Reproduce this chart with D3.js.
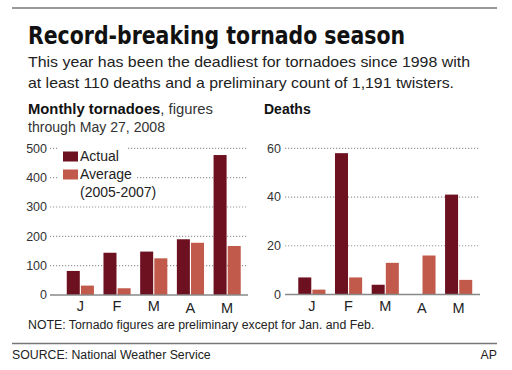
<!DOCTYPE html>
<html><head><meta charset="utf-8">
<script src="https://cdn.jsdelivr.net/npm/d3@7"></script>
<style>
body{margin:0;background:#fff;}
svg{display:block;font-family:"Liberation Sans",Arial,Helvetica,sans-serif;}
</style></head>
<body><svg id="c" width="512" height="370"></svg>
<script>
const months = ["J","F","M","A","M"];
const seriesNames = ["Actual","Average"];
const tornadoActual = [82,144,148,190,477];
const tornadoAverage = [32,23,125,178,167];
const deathsActual = [7,58,4,0,41];
const deathsAverage = [2,7,13,16,6];
const tornadoTicks = [0,100,200,300,400,500];
const deathTicks = [0,20,40,60];
const colors = {Actual:"#6d1020", Average:"#c25a4b"};

const svg = d3.select("#c");

// rules
svg.append("line").attr("x1",12).attr("x2",497).attr("y1",8).attr("y2",8).attr("stroke","#777").attr("stroke-width",1.5);
svg.append("line").attr("x1",12).attr("x2",497).attr("y1",343.5).attr("y2",343.5).attr("stroke","#777").attr("stroke-width",1.5);

// title
svg.append("text").attr("x",28).attr("y",43.5)
  .attr("font-family","'Liberation Sans Narrow','DejaVu Sans Condensed',Arial,sans-serif")
  .attr("font-weight","bold").attr("font-size",25).attr("fill","#111")
  .attr("textLength",377).attr("lengthAdjust","spacingAndGlyphs")
  .text("Record-breaking tornado season");
svg.append("text").attr("x",28).attr("y",67).attr("font-size",14.5).attr("fill","#222")
  .attr("textLength",442).attr("lengthAdjust","spacingAndGlyphs")
  .text("This year has been the deadliest for tornadoes since 1998 with");
svg.append("text").attr("x",28).attr("y",88).attr("font-size",14.5).attr("fill","#222")
  .attr("textLength",426).attr("lengthAdjust","spacingAndGlyphs")
  .text("at least 110 deaths and a preliminary count of 1,191 twisters.");

const sub = svg.append("text").attr("x",28).attr("y",114).attr("font-size",14).attr("fill","#111")
  .attr("textLength",185).attr("lengthAdjust","spacingAndGlyphs");
sub.append("tspan").attr("font-weight","bold").text("Monthly tornadoes");
sub.append("tspan").attr("fill","#333").text(", figures");
svg.append("text").attr("x",28).attr("y",132).attr("font-size",14).attr("fill","#333")
  .attr("textLength",137).attr("lengthAdjust","spacingAndGlyphs").text("through May 27, 2008");
svg.append("text").attr("x",264).attr("y",114).attr("font-size",14).attr("font-weight","bold").attr("fill","#111").text("Deaths");

function panel(opts){
  const {x0r, xr, yr, domainMax, ticks, actual, average, labelX} = opts;
  const y = d3.scaleLinear().domain([0,domainMax]).range(yr);
  const x0 = d3.scaleBand().domain(d3.range(months.length)).range(x0r).paddingInner(0.26).paddingOuter(0.13);
  const x1 = d3.scaleBand().domain(seriesNames).range([0,x0.bandwidth()]).paddingInner(0.08);
  const g = svg.append("g");
  g.selectAll(".grid").data(ticks.filter(t=>t>0)).join("line")
    .attr("x1",xr[0]).attr("x2",xr[1]).attr("y1",d=>y(d)).attr("y2",d=>y(d))
    .attr("stroke","#999").attr("stroke-width",1.2).attr("stroke-dasharray","1.2,1.8");
  g.selectAll(".tl").data(ticks).join("text")
    .attr("x",labelX).attr("y",d=>y(d)).attr("dy","0.35em").attr("text-anchor","end")
    .attr("font-size",12.5).attr("fill","#333").text(d=>d);
  return {g,x0,x1,y, data: months.map((m,i)=>({i, Actual:actual[i], Average:average[i]}))};
}
function drawBars(p, xr){
  const {g,x0,x1,y,data} = p;
  const grp = g.selectAll(".grp").data(data).join("g").attr("transform",d=>`translate(${x0(d.i)},0)`);
  grp.selectAll("rect").data(d=>seriesNames.map(s=>({s,v:d[s]}))).join("rect")
    .attr("x",d=>x1(d.s)).attr("width",x1.bandwidth())
    .attr("y",d=>y(d.v)).attr("height",d=>y(0)-y(d.v))
    .attr("fill",d=>colors[d.s]);
  g.append("line").attr("x1",xr[0]).attr("x2",xr[1]).attr("y1",y(0)).attr("y2",y(0))
    .attr("stroke","#888").attr("stroke-width",1.5);
  g.selectAll(".ml").data(data).join("text")
    .attr("x",d=>x0(d.i)+x0.bandwidth()/2).attr("y",d=>d.i>=3?313:310.5)
    .attr("text-anchor","middle").attr("font-size",14.5).attr("fill","#222")
    .text(d=>months[d.i]);
}

const left = panel({x0r:[62,245.5], xr:[50,248], yr:[295,148.3], domainMax:500, ticks:tornadoTicks, actual:tornadoActual, average:tornadoAverage, labelX:47});
const lg = svg.append("g");
lg.append("rect").attr("x",58).attr("y",145).attr("width",70).attr("height",19).attr("fill","#fff");
lg.append("rect").attr("x",58).attr("y",166).attr("width",79).attr("height",16).attr("fill","#fff");
const legendRows = [{s:"Actual",y:151.5,lines:["Actual"]},{s:"Average",y:169.5,lines:["Average","(2005-2007)"]}];
legendRows.forEach(r=>{
  lg.append("rect").attr("x",63).attr("y",r.y).attr("width",15).attr("height",10).attr("fill",colors[r.s]);
  r.lines.forEach((t,k)=>lg.append("text").attr("x",80).attr("y",r.y+9.8+k*17.5).attr("font-size",14).attr("fill","#222").text(t));
});
drawBars(left,[50,248]);

const right = panel({x0r:[293.5,477], xr:[285,480], yr:[294.5,148.3], domainMax:60, ticks:deathTicks, actual:deathsActual, average:deathsAverage, labelX:281});
drawBars(right,[285,480]);

svg.append("text").attr("x",28).attr("y",328.5).attr("font-size",12.3).attr("fill","#222")
  .text("NOTE: Tornado figures are preliminary except for Jan. and Feb.");
svg.append("text").attr("x",12).attr("y",358.5).attr("font-size",12.3).attr("fill","#222")
  .text("SOURCE: National Weather Service");
svg.append("text").attr("x",497).attr("y",358.5).attr("font-size",12.3).attr("fill","#222").attr("text-anchor","end")
  .text("AP");
</script></body></html>
